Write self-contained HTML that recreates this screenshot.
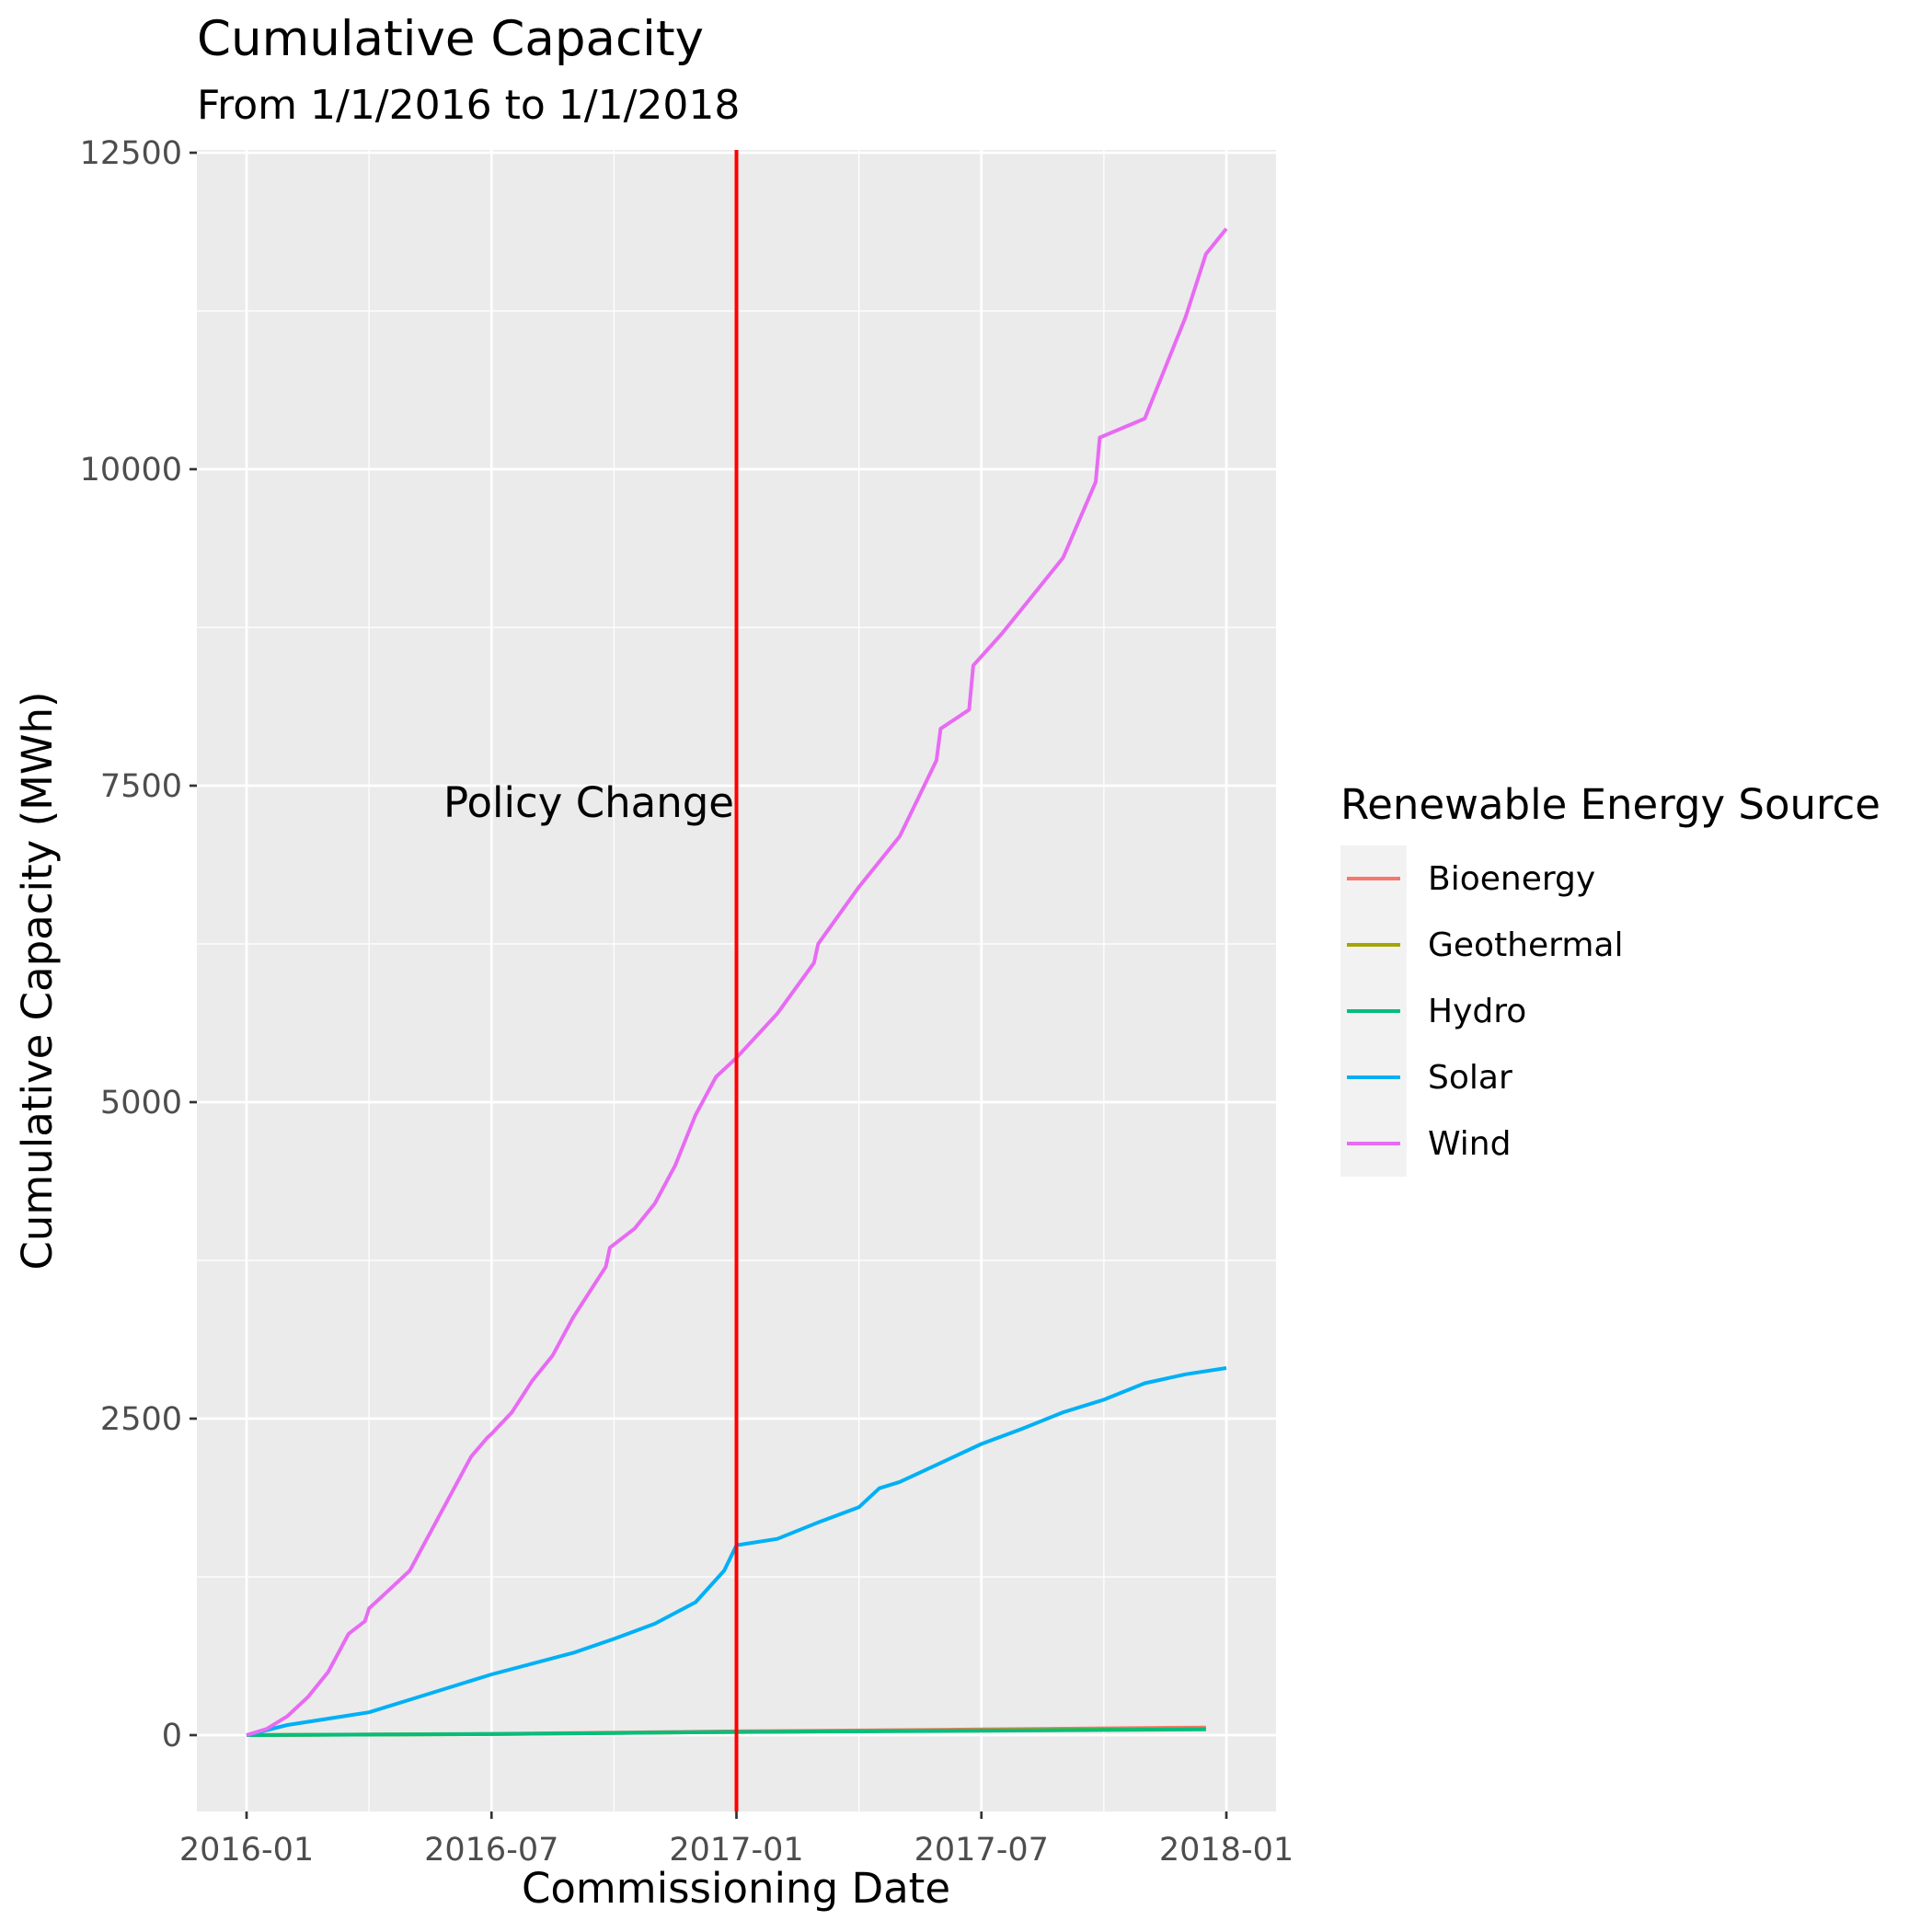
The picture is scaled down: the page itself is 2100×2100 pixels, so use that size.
<!DOCTYPE html>
<html><head><meta charset="utf-8"><style>
body{margin:0;background:#fff;}
svg{display:block;font-family:"DejaVu Sans","Liberation Sans",sans-serif;}
</style></head><body>
<svg id="chart" width="2100" height="2100">
<text x="214" y="60" font-size="53" fill="#000">Cumulative Capacity</text>
<text x="214" y="129" font-size="44" fill="#000">From 1/1/2016 to 1/1/2018</text>
<rect x="214" y="163" width="1173" height="1806" fill="#ebebeb"/>
<g id="grid"></g>
<g id="series"></g>
<g id="axes"></g>
<text x="798" y="888" font-size="45" text-anchor="end" fill="#000">Policy Change</text>
<text x="800" y="2068" font-size="45" text-anchor="middle">Commissioning Date</text>
<text transform="translate(56,1066) rotate(-90)" font-size="45" text-anchor="middle">Cumulative Capacity (MWh)</text>
<g id="legend">
<text x="1457" y="890" font-size="45">Renewable Energy Source</text>
<rect x="1457" y="919" width="72" height="360" fill="#f2f2f2"/>
</g>
</svg>
<script>
const months=[0,0.5,1,1.5,2,2.5,2.9,3,3.5,4,4.5,5,5.5,5.9,6,6.5,7,7.5,8,8.8,8.9,9.5,10,10.5,11,11.5,12,13,13.9,14,15,16,16.9,17,17.7,17.8,18.5,19,20,20.8,20.9,22,23,23.5,24];
const windVals=[0,50,150,300,500,800,900,1000,1150,1300,1600,1900,2200,2350,2380,2550,2800,3000,3300,3700,3850,4000,4200,4500,4900,5200,5350,5700,6100,6250,6700,7100,7700,7950,8100,8450,8700,8900,9300,9900,10250,10400,11200,11700,11900];
const solarMonths=[0,1,3,4,6,8,9,10,11,11.7,12,13,14,15,15.5,16,17,18,19,20,21,22,23,24];
const solarVals=[0,80,180,280,480,650,760,880,1050,1300,1500,1550,1680,1800,1950,2000,2150,2300,2420,2550,2650,2780,2850,2900];
const smallMonths=[0,6,12,18,23.5];
const bioVals=[0,10,30,45,60];
const geoVals=[0,8,25,38,50];
const hydroVals=[0,8,25,35,45];
const yTicks=[0,2500,5000,7500,10000,12500];
const xTickMonths=[0,6,12,18,24];
const xTickLabels=["2016-01","2016-07","2017-01","2017-07","2018-01"];
const policyMonth=12;
const NS="http://www.w3.org/2000/svg";
const X=m=>268+m*(1333-268)/24;
const Y=v=>1886-v*(1886-166)/12500;
function mk(tag,attrs,parent){const e=document.createElementNS(NS,tag);for(const k in attrs)e.setAttribute(k,attrs[k]);document.getElementById(parent).appendChild(e);return e;}
for(let i=0;i<yTicks.length;i++){
  const g=mk('line',{x1:214,x2:1387,y1:Y(yTicks[i]),y2:Y(yTicks[i]),stroke:'#fff','stroke-width':2.7},'grid');
  
  
  if(i<yTicks.length-1){const m=mk('line',{x1:214,x2:1387,y1:Y((yTicks[i]+yTicks[i+1])/2),y2:Y((yTicks[i]+yTicks[i+1])/2),stroke:'#fff','stroke-width':1.3},'grid');
  
  }
  const t=mk('text',{x:198,y:Y(yTicks[i])+12,'font-size':35,'text-anchor':'end',fill:'#4d4d4d'},'axes');t.textContent=yTicks[i];
  
  
  mk('line',{x1:206,x2:214,y1:Y(yTicks[i]),y2:Y(yTicks[i]),stroke:'#333','stroke-width':2.7},'axes');
}
for(let i=0;i<xTickMonths.length;i++){
  const g=mk('line',{x1:X(xTickMonths[i]),x2:X(xTickMonths[i]),y1:163,y2:1969,stroke:'#fff','stroke-width':2.7},'grid');
  
  
  if(i<xTickMonths.length-1){const m=mk('line',{x1:X(xTickMonths[i]+3),x2:X(xTickMonths[i]+3),y1:163,y2:1969,stroke:'#fff','stroke-width':1.3},'grid');
  
  }
  mk('line',{x1:X(xTickMonths[i]),x2:X(xTickMonths[i]),y1:1969,y2:1977,stroke:'#333','stroke-width':2.7},'axes');
  const t=mk('text',{x:X(xTickMonths[i]),y:2022,'font-size':35,'text-anchor':'middle',fill:'#4d4d4d'},'axes');t.textContent=xTickLabels[i];
  
  
}
function line(ms,vs,color,name){
  let d='';for(let i=0;i<ms.length;i++)d+=(i?'L':'M')+X(ms[i]).toFixed(1)+','+Y(vs[i]).toFixed(1);
  const p=mk('path',{d:d,fill:'none',stroke:color,'stroke-width':4,'stroke-linejoin':'round'},'series');
  
  
}
line(smallMonths,bioVals,'#f8766d','bioenergy-line');
line(smallMonths,geoVals,'#a3a500','geothermal-line');
line(smallMonths,hydroVals,'#00bf7d','hydro-line');
line(solarMonths,solarVals,'#00b0f6','solar-line');
line(months,windVals,'#e76bf3','wind-line');
const pl=mk('line',{x1:X(policyMonth),x2:X(policyMonth),y1:163,y2:1969,stroke:'#ff0000','stroke-width':4},'series');


const names=['Bioenergy','Geothermal','Hydro','Solar','Wind'];
const cols=['#f8766d','#a3a500','#00bf7d','#00b0f6','#e76bf3'];
for(let i=0;i<5;i++){
  const y=955+i*72;
  const l=mk('line',{x1:1464,x2:1522,y1:y,y2:y,stroke:cols[i],'stroke-width':4},'legend');
  
  
  const t=mk('text',{x:1552,y:y+12,'font-size':36,fill:'#000'},'legend');t.textContent=names[i];
  
  
}
</script>
</body></html>
